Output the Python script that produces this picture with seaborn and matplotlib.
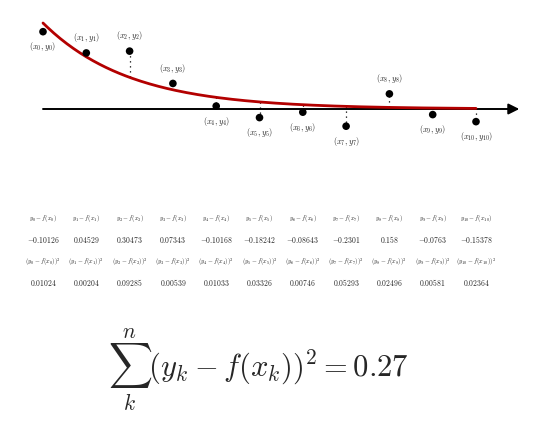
import numpy as np
import matplotlib
matplotlib.use('Agg')
import matplotlib.pyplot as plt
import matplotlib.transforms as mtransforms
import seaborn as sns
import pandas as pd

# data
xs = [0, 1, 2, 3, 4, 5, 6, 7, 8, 9, 10]
ys = [0.899, 0.652, 0.673, 0.297, 0.034, -0.100, -0.037, -0.200, 0.176, -0.065, -0.147]
label_side = ['below', 'above', 'above', 'above', 'below', 'below',
              'below', 'below', 'above', 'below', 'below']
residuals = ['-0.10126', '0.04529', '0.30473', '0.07343', '-0.10168', '-0.18242',
             '-0.08643', '-0.2301', '0.158', '-0.0763', '-0.15378']
squares = ['0.01024', '0.00204', '0.09285', '0.00539', '0.01033', '0.03326',
           '0.00746', '0.05293', '0.02496', '0.00581', '0.02364']
total = '0.27'

# fitted model f(x) = a * exp(-b x)
fit_a = 1.0
fit_b = 0.5

sns.set_style('white')
plt.rcParams['mathtext.fontset'] = 'cm'
plt.rcParams['font.family'] = ['DejaVu Serif']

fig = plt.figure(figsize=(5.4, 4.33), dpi=100)
ax = fig.add_axes([0, 1 - 160 / 433, 1, 160 / 433])

xc = np.linspace(xs[0], xs[-1], 200)
curve = pd.DataFrame({'x': xc, 'f': fit_a * np.exp(-fit_b * xc)})
pts = pd.DataFrame({'x': xs, 'y': ys})
fx = fit_a * np.exp(-fit_b * np.array(xs))

# x axis with arrow
ax.annotate('', xy=(11.0, 0), xytext=(0, 0),
            arrowprops=dict(arrowstyle='-|>', color='black', lw=1.4,
                            mutation_scale=16, shrinkA=0, shrinkB=0), zorder=1)

ax.vlines(xs, fx, ys, linestyles=(0, (1, 3)), colors='black', lw=0.9, zorder=2)
sns.lineplot(data=curve, x='x', y='f', color='#b30000', lw=2, ax=ax, zorder=3)
sns.scatterplot(data=pts, x='x', y='y', color='black', s=30, edgecolor='none', ax=ax, zorder=4)

for k, (x, y, side) in enumerate(zip(xs, ys, label_side)):
    off = 11 if side == 'above' else -11
    ax.annotate(r'$(x_{%d},y_{%d})$' % (k, k), (x, y), xytext=(0, off),
                textcoords='offset points', ha='center', va='center', fontsize=6)

ax.set_xlim((0 - 43) / 43.3, (540 - 43) / 43.3)
ax.set_ylim(-(160 - 109) / 86, 109 / 86)
ax.set_axis_off()

# table of residuals
tr = mtransforms.blended_transform_factory(ax.transData, fig.transFigure)
for k, x in enumerate(xs):
    ax.text(x, 1 - 218 / 433, r'$y_{%d}-f(x_{%d})$' % (k, k), transform=tr,
            ha='center', va='center', fontsize=4.5)
    ax.text(x, 1 - 240 / 433, '$%s$' % residuals[k], transform=tr,
            ha='center', va='center', fontsize=5.5)
    ax.text(x, 1 - 262 / 433, r'$(y_{%d}-f(x_{%d}))^2$' % (k, k), transform=tr,
            ha='center', va='center', fontsize=4.5)
    ax.text(x, 1 - 283 / 433, '$%s$' % squares[k], transform=tr,
            ha='center', va='center', fontsize=5.5)

fig.text(258 / 540, 1 - 370 / 433, r'$\sum_{k}^{n}(y_k-f(x_k))^2=%s$' % total,
         ha='center', va='center', fontsize=22)

fig.savefig('out.png', dpi=100)
